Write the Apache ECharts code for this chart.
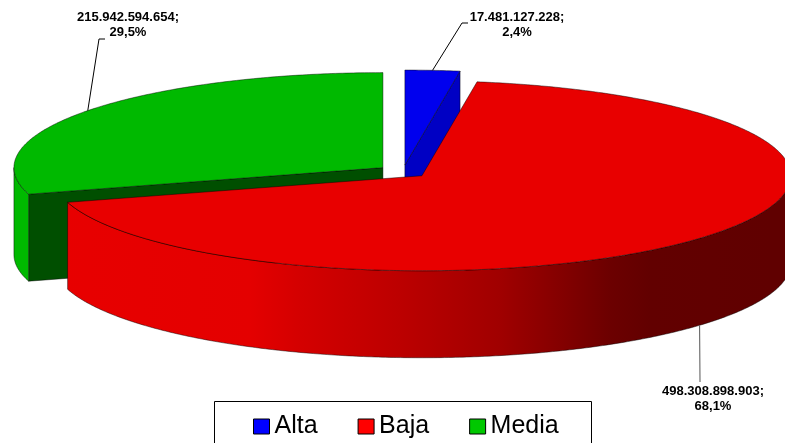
<!DOCTYPE html>
<html>
<head>
<meta charset="utf-8">
<script src="https://cdn.jsdelivr.net/npm/echarts@6/dist/echarts.min.js"></script>
<style>
  html, body { margin: 0; padding: 0; background: #ffffff; }
  #chart { width: 785px; height: 443px; }
</style>
</head>
<body>
<div id="chart"></div>
<script>
// Categories and values of the exploded 3D pie
const categories = ['Alta', 'Baja', 'Media'];
const values = [17481127228, 498308898903, 215942594654];

// Colours: legend swatch, top face, cut (radial) face
const legendColors = ['#0000FF', '#FF0000', '#00C800'];
const topColors = ['#0000EE', '#E80000', '#00B900'];
const cutColors = ['#0000C4', '#B00000', '#004F00'];

// Label placement: text centre and leader elbow points
const labelLayout = [
  { text: [517, 25], elbow: [[462, 23], [468, 23]] },
  { text: [713, 399], elbow: [[700, 382]] },
  { text: [128, 25], elbow: [[99, 39], [105, 39]] }
];

// Pie geometry (projected ellipse)
const CX = 403, CY = 171.5, RX = 369, RY = 95, THICK = 87, EXPLODE = 0.068;

const total = values.reduce((a, b) => a + b, 0);
const fmtNum = v => String(v).replace(/\B(?=(\d{3})+(?!\d))/g, '.');
const fmtPct = v => (v / total * 100).toFixed(1).replace('.', ',') + '%';

// Red rim shading across the front (darker towards the right)
function redRim() {
  const x0 = CX - RX, x1 = CX + RX;
  const f = x => (x - x0) / (x1 - x0);
  return {
    type: 'linear', global: true, x: x0, y: 0, x2: x1, y2: 0,
    colorStops: [
      { offset: 0, color: '#E80000' },
      { offset: f(250), color: '#E40000' },
      { offset: f(300), color: '#D40000' },
      { offset: f(400), color: '#BC0000' },
      { offset: f(500), color: '#A00000' },
      { offset: f(560), color: '#840000' },
      { offset: f(610), color: '#6C0000' },
      { offset: f(650), color: '#620000' },
      { offset: 1, color: '#600000' }
    ]
  };
}

function makeRender(i) {
  return function (params, api) {
    const v = api.value(0);
    let before = 0;
    for (let k = 0; k < i; k++) before += values[k];
    const a0 = before / total * Math.PI * 2;
    const a1 = (before + v) / total * Math.PI * 2;
    const mid = (a0 + a1) / 2;
    const ox = EXPLODE * RX * Math.sin(mid);
    const oy = -EXPLODE * RY * Math.cos(mid);
    const P = (th, dz) => [CX + ox + RX * Math.sin(th), CY + oy - RY * Math.cos(th) + dz];
    const C = (dz) => [CX + ox, CY + oy + dz];
    const arc = (s, e, dz) => {
      const pts = [];
      const n = Math.max(2, Math.ceil(Math.abs(e - s) / 0.01));
      for (let j = 0; j <= n; j++) pts.push(P(s + (e - s) * j / n, dz));
      return pts;
    };
    const edge = { stroke: 'rgba(0,0,0,0.75)', lineWidth: 0.6 };
    const children = [];

    // cut faces facing the viewer
    const faceVisible = psi => Math.cos(psi) < -1e-6;
    if (faceVisible(a0 - Math.PI / 2)) {
      children.push({ type: 'polygon', shape: { points: [C(0), P(a0, 0), P(a0, THICK), C(THICK)] },
        style: Object.assign({ fill: cutColors[i] }, edge) });
    }
    if (faceVisible(a1 + Math.PI / 2)) {
      children.push({ type: 'polygon', shape: { points: [C(0), P(a1, 0), P(a1, THICK), C(THICK)] },
        style: Object.assign({ fill: cutColors[i] }, edge) });
    }
    // outer rim on the front half
    const lo = Math.max(a0, Math.PI / 2), hi = Math.min(a1, Math.PI * 1.5);
    if (hi > lo) {
      const pts = arc(lo, hi, 0).concat(arc(hi, lo, THICK));
      const fill = i === 1 ? redRim() : topColors[i];
      children.push({ type: 'polygon', shape: { points: pts }, style: Object.assign({ fill: fill }, edge) });
    }
    // top face
    children.push({ type: 'polygon', shape: { points: [C(0)].concat(arc(a0, a1, 0)) },
      style: Object.assign({ fill: topColors[i] }, edge) });

    // leader line and label
    const lay = labelLayout[i];
    const anchor = Math.cos(mid) < 0 ? P(mid, THICK) : P(mid, 0);
    children.push({ type: 'polyline', shape: { points: [anchor].concat(lay.elbow) },
      style: { stroke: i === 1 ? '#555' : '#000', lineWidth: 1, fill: null } });
    children.push({ type: 'text', style: {
      x: lay.text[0], y: lay.text[1],
      text: fmtNum(v) + ';\n' + fmtPct(v),
      fill: '#000', font: 'bold 13px "Liberation Sans", Arial, sans-serif',
      align: 'center', verticalAlign: 'middle', lineHeight: 15 } });

    return { type: 'group', children: children };
  };
}

const chart = echarts.init(document.getElementById('chart'), null, { renderer: 'canvas' });
chart.setOption({
  backgroundColor: '#ffffff',
  animation: false,
  legend: {
    data: categories,
    left: 253, top: 414, padding: 0,
    itemWidth: 16, itemHeight: 15, itemGap: 40,
    icon: 'rect',
    selectedMode: false,
    itemStyle: { borderColor: '#000', borderWidth: 1 },
    textStyle: { fontSize: 25, fontFamily: '"Liberation Sans", Arial, sans-serif', color: '#000' }
  },
  graphic: [{
    type: 'rect', silent: true,
    shape: { x: 214.5, y: 401.5, width: 377, height: 60 },
    style: { fill: null, stroke: '#000', lineWidth: 1 }
  }],
  series: categories.map((name, i) => ({
    type: 'custom',
    name: name,
    coordinateSystem: 'none',
    z: i === 1 ? 3 : 2,
    itemStyle: { color: legendColors[i] },
    data: [values[i]],
    renderItem: makeRender(i)
  }))
});
</script>
</body>
</html>
